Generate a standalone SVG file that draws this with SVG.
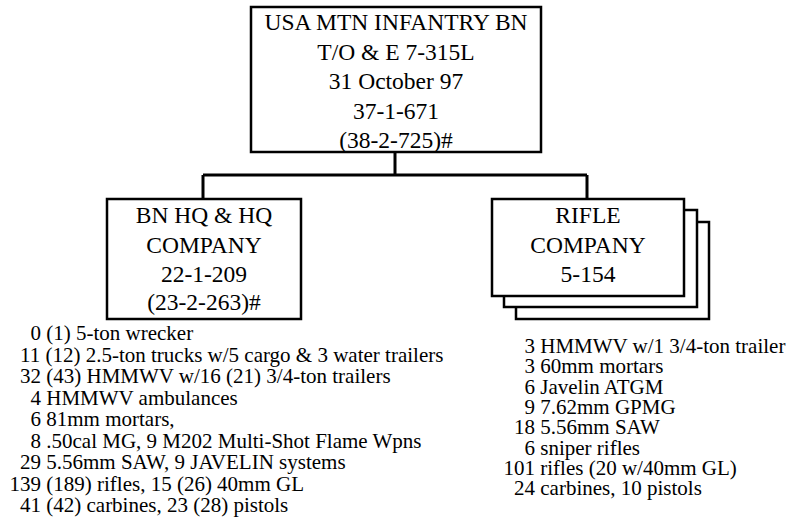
<svg xmlns="http://www.w3.org/2000/svg" width="791" height="519" viewBox="0 0 791 519">
<style>
.box{fill:#fff;stroke:#000;stroke-width:2.5}
.conn{fill:none;stroke:#000;stroke-width:3}
.t{font-size:23.5px;fill:#000;text-anchor:middle}
.l{font-size:21px;fill:#000}
</style>
<rect width="791" height="519" fill="#fff"/>
<g id="connectors">
<path class="conn" d="M395 152V175M203 175H587M203 175V199M587 175V199"/>
</g>
<g font-family="Liberation Serif, Times New Roman, serif">
<g id="bn">
<rect class="box" x="251" y="7" width="290" height="145"/>
<text class="t" x="396" y="30">USA MTN INFANTRY BN</text>
<text class="t" x="396" y="60">T/O &amp; E 7-315L</text>
<text class="t" x="396" y="89">31 October 97</text>
<text class="t" x="396" y="119">37-1-671</text>
<text class="t" x="396" y="148">(38-2-725)#</text>
</g>
<g id="hhc">
<rect class="box" x="107" y="199" width="194" height="120"/>
<text class="t" x="204" y="223">BN HQ &amp; HQ</text>
<text class="t" x="204" y="253">COMPANY</text>
<text class="t" x="204" y="282">22-1-209</text>
<text class="t" x="204" y="310">(23-2-263)#</text>
</g>
<g id="rifle">
<rect class="box" x="516" y="222" width="193" height="97"/>
<rect class="box" x="504" y="210" width="193" height="97"/>
<rect class="box" x="492" y="199" width="192" height="97"/>
<text class="t" x="588" y="223">RIFLE</text>
<text class="t" x="588" y="253">COMPANY</text>
<text class="t" x="588" y="282">5-154</text>
</g>
<g id="hhc-list">
<text class="l" x="30.5" y="340">0 (1) 5-ton wrecker</text>
<text class="l" x="20" y="361.5">11 (12) 2.5-ton trucks w/5 cargo &amp; 3 water trailers</text>
<text class="l" x="20" y="383">32 (43) HMMWV w/16 (21) 3/4-ton trailers</text>
<text class="l" x="30.5" y="404.5">4 HMMWV ambulances</text>
<text class="l" x="30.5" y="426">6 81mm mortars,</text>
<text class="l" x="30.5" y="447.5">8 .50cal MG, 9 M202 Multi-Shot Flame Wpns</text>
<text class="l" x="20" y="469">29 5.56mm SAW, 9 JAVELIN systems</text>
<text class="l" x="9.5" y="490.5">139 (189) rifles, 15 (26) 40mm GL</text>
<text class="l" x="20" y="512">41 (42) carbines, 23 (28) pistols</text>
</g>
<g id="rifle-list">
<text class="l" x="524.5" y="353">3 HMMWV w/1 3/4-ton trailer</text>
<text class="l" x="524.5" y="373.3">3 60mm mortars</text>
<text class="l" x="524.5" y="393.6">6 Javelin ATGM</text>
<text class="l" x="524.5" y="413.9">9 7.62mm GPMG</text>
<text class="l" x="514" y="434.2">18 5.56mm SAW</text>
<text class="l" x="524.5" y="454.5">6 sniper rifles</text>
<text class="l" x="503.5" y="474.8">101 rifles (20 w/40mm GL)</text>
<text class="l" x="514" y="495">24 carbines, 10 pistols</text>
</g>
</g>
</svg>
